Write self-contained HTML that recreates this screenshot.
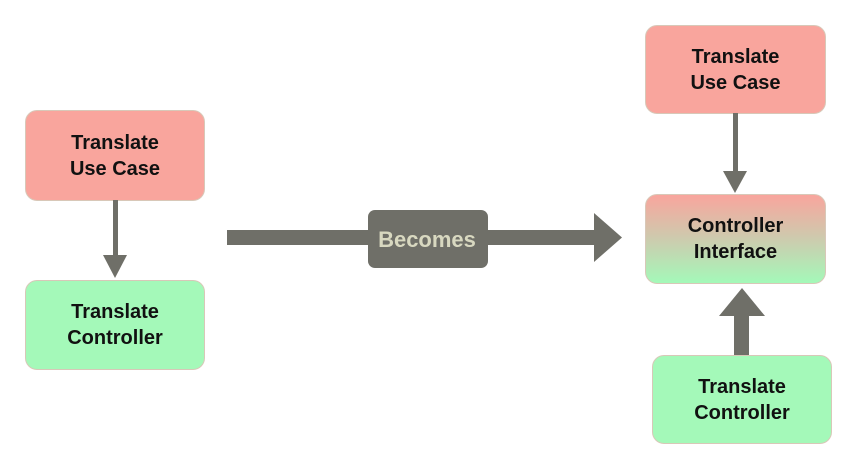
<!DOCTYPE html>
<html><head><style>
body{margin:0;width:857px;height:470px;background:#fff;position:relative;overflow:hidden;font-family:"Liberation Sans",sans-serif}
.b{position:absolute;border-radius:12px;display:flex;align-items:center;justify-content:center;text-align:center;font-weight:bold;font-size:20px;line-height:26px;color:#111;box-sizing:border-box;border:1px solid #d8c8b8}
.r{background:#f9a59d}.g{background:#a4f9b9}
</style></head><body>
<div class="b r" style="left:25px;top:110px;width:180px;height:91px">Translate<br>Use Case</div>
<div class="b g" style="left:25px;top:280px;width:180px;height:90px">Translate<br>Controller</div>
<div class="b r" style="left:645px;top:25px;width:181px;height:89px">Translate<br>Use Case</div>
<div class="b" style="left:645px;top:194px;width:181px;height:90px;background:linear-gradient(#f9a59d,#cdcbae 50%,#a4f9b9)">Controller<br>Interface</div>
<div class="b g" style="left:652px;top:355px;width:180px;height:89px">Translate<br>Controller</div>
<svg width="857" height="470" style="position:absolute;left:0;top:0">
<g fill="#6f6f68" stroke="none">
<rect x="113" y="200" width="5" height="58"/>
<polygon points="103,255 127,255 115,278"/>
<rect x="733" y="113" width="5" height="60"/>
<polygon points="723,171 747,171 735,193"/>
<rect x="734" y="314" width="15" height="41"/>
<polygon points="719,316 765,316 742,288"/>
<rect x="227" y="230" width="370" height="15"/>
<polygon points="594,213 594,262 622,237.5"/>
<rect x="368" y="210" width="120" height="58" rx="7"/>
</g>
<text x="427" y="247" text-anchor="middle" font-family="Liberation Sans" font-size="22" font-weight="bold" fill="#d8d8c0">Becomes</text>
</svg>
</body></html>
